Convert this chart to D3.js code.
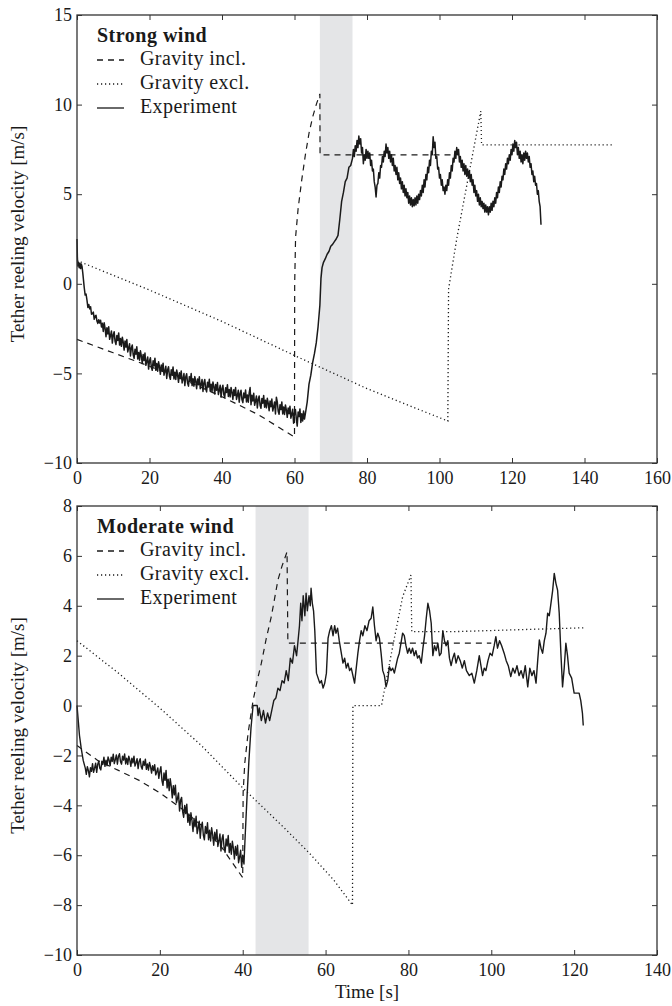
<!DOCTYPE html>
<html>
<head>
<meta charset="utf-8">
<script src="https://cdn.jsdelivr.net/npm/d3@7"></script>
<style>
body { margin: 0; background: #fff; }
svg text { font-family: "Liberation Serif", "Times New Roman", serif; fill: #1a1a1a; }
</style>
</head>
<body>
<div id="chart"></div>
<script>
// legend labels
let seriesLabels = ["Gravity incl.", "Gravity excl.", "Experiment"];

// ---- strong wind ----
let strongXTicks = [0, 20, 40, 60, 80, 100, 120, 140, 160];
let strongYTicks = [-10, -5, 0, 5, 10, 15];
let strongShade = [67, 76];
let strongIncl = [[0,-3.1],[10,-3.85],[20,-4.6],[30,-5.4],[40,-6.3],[50,-7.3],[60,-8.55],[60.05,0],[60.3,2.6],[61,4.2],[62,5.8],[63,7.2],[64,8.4],[65,9.3],[66,10.0],[67,10.6],[67.05,7.2],[104,7.2]];
let strongExcl = [[0,1.3],[20,-0.35],[40,-2.1],[60,-4.0],[80,-5.85],[102.3,-7.66],[102.5,-0.3],[104.8,2.56],[108,6.0],[111.4,9.64],[111.6,7.75],[148,7.75]];
let strongExp = [[0,2.5],[0.1,1.5],[0.2,1.0],[0.4,1.2],[0.6,0.9],[0.8,1.15],[1,0.85],[1.2,1.1],[1.4,0.95],[1.6,0.6],
[2,-0.22],[2.25,-0.63],[2.5,-0.57],[2.75,-0.91],[3,-1.32],[3.25,-1.15],[3.5,-1.4],[3.75,-1.28],[4,-1.7],[4.25,-1.66],[4.5,-1.58],[4.75,-1.98],[5,-1.8],[5.25,-1.76],[5.5,-2.08],[5.75,-2.21],[6,-2.0],[6.25,-2.19],[6.5,-2.03],[6.75,-2.41],[7,-2.2],[7.25,-2.66],[7.5,-2.18],[7.75,-2.49],[8,-2.95],[8.25,-2.45],[8.5,-2.8],[8.75,-2.4],[9,-3.1],[9.25,-2.89],[9.5,-2.63],[9.75,-3.31],
[10,-2.85],[10.25,-2.68],[10.5,-3.21],[10.75,-3.39],[11,-2.88],[11.25,-3.16],[11.5,-2.74],[11.75,-3.42],[12,-3.05],[12.25,-3.49],[12.5,-2.98],[12.75,-3.26],[13,-3.7],[13.25,-3.19],[13.5,-3.53],[13.75,-3.11],[14,-3.8],[14.25,-3.59],[14.5,-3.34],[14.75,-4.03],[15,-3.58],[15.25,-3.42],[15.5,-3.96],[15.75,-4.16],[16,-3.65],[16.25,-3.93],[16.5,-3.51],[16.75,-4.19],[17,-3.83],[17.25,-4.26],[17.5,-3.74],[17.75,-4.02],[18,-4.45],[18.25,-3.94],[18.5,-4.28],[18.75,-3.86],[19,-4.55],[19.25,-4.34],[19.5,-4.08],[19.75,-4.76],
[20,-4.3],[20.25,-4.13],[20.5,-4.65],[20.75,-4.83],[21,-4.3],[21.25,-4.58],[21.5,-4.15],[21.75,-4.83],[22,-4.45],[22.25,-4.88],[22.5,-4.35],[22.75,-4.63],[23,-5.05],[23.25,-4.53],[23.5,-4.85],[23.75,-4.43],[24,-5.1],[24.25,-4.88],[24.5,-4.6],[24.75,-5.28],[25,-4.8],[25.25,-4.63],[25.5,-5.15],[25.75,-5.33],[26,-4.8],[26.25,-5.07],[26.5,-4.64],[26.75,-5.31],[27,-4.93],[27.25,-5.34],[27.5,-4.81],[27.75,-5.08],[28,-5.5],[28.25,-4.97],[28.5,-5.29],[28.75,-4.86],[29,-5.53],[29.25,-5.29],[29.5,-5.01],[29.75,-5.68],
[30,-5.2],[30.25,-5.02],[30.5,-5.54],[30.75,-5.71],[31,-5.18],[31.25,-5.44],[31.5,-5.01],[31.75,-5.68],[32,-5.3],[32.25,-5.71],[32.5,-5.18],[32.75,-5.44],[33,-5.85],[33.25,-5.31],[33.5,-5.63],[33.75,-5.19],[34,-5.85],[34.25,-5.62],[34.5,-5.34],[34.75,-6.01],[35,-5.53],[35.25,-5.34],[35.5,-5.86],[35.75,-6.03],[36,-5.5],[36.25,-5.76],[36.5,-5.33],[36.75,-5.99],[37,-5.6],[37.25,-6.01],[37.5,-5.48],[37.75,-5.74],[38,-6.15],[38.25,-5.62],[38.5,-5.94],[38.75,-5.51],[39,-6.18],[39.25,-5.94],[39.5,-5.66],[39.75,-6.33],
[40,-5.85],[40.25,-5.66],[40.5,-6.18],[40.75,-6.34],[41,-5.8],[41.25,-6.06],[41.5,-5.63],[41.75,-6.29],[42,-5.9],[42.25,-6.31],[42.5,-5.78],[42.75,-6.04],[43,-6.45],[43.25,-5.91],[43.5,-6.23],[43.75,-5.79],[44,-6.45],[44.25,-6.22],[44.5,-5.94],[44.75,-6.61],[45,-6.13],[45.25,-5.94],[45.5,-6.46],[45.75,-6.63],[46,-6.1],[46.25,-6.36],[46.5,-5.93],[46.75,-6.59],[47,-6.2],[47.25,-6.61],[47.5,-6.08],[47.75,-5.79],[48,-6.75],[48.25,-6.22],[48.5,-6.54],[48.75,-6.11],[49,-6.78],[49.25,-6.54],[49.5,-6.26],[49.75,-6.93],
[50,-6.45],[50.25,-6.26],[50.5,-6.78],[50.75,-6.94],[51,-6.4],[51.25,-6.66],[51.5,-6.23],[51.75,-6.89],[52,-6.5],[52.25,-6.92],[52.5,-6.39],[52.75,-6.66],[53,-7.08],[53.25,-6.54],[53.5,-6.86],[53.75,-6.43],[54,-7.1],[54.25,-6.87],[54.5,-6.59],[54.75,-7.26],[55,-6.33],[55.25,-6.59],[55.5,-7.11],[55.75,-7.28],[56,-6.75],[56.25,-7.02],[56.5,-6.59],[56.75,-7.26],[57,-6.88],[57.25,-7.29],[57.5,-6.76],[57.75,-7.03],[58,-7.45],[58.25,-6.93],[58.5,-7.25],[58.75,-6.83],[59,-7.5],[59.25,-7.28],[59.5,-7.0],[59.75,-7.78],
[60,-7.2],[60.25,-7.01],[60.5,-7.53],[60.75,-7.94],[61,-7.15],[61.25,-7.41],[61.5,-6.98],[61.75,-7.74],[62,-7.25],[62.25,-7.65],[62.5,-7.1],[62.75,-7.55],[63,-7.25],
[63.5,-6.6],[64,-5.6],[64.5,-5.1],[65,-4.4],[65.5,-3.9],[66,-3.3],[66.5,-2.4],[67,-1.2],[67.3,0.3],[67.6,0.9],[68,1.2],[68.5,1.4],[69,1.65],[69.5,1.8],[70,2.1],[70.5,2.2],[71,2.35],[71.5,2.5],[72,2.7],[72.5,3.6],[73,4.6],[73.5,5.1],[74,5.7],[74.5,5.9],[75,6.5],[75.5,6.6],
[76,7.0],[76.25,7.5],[76.5,7.1],[76.75,7.7],[77,7.4],[77.25,8.0],[77.5,7.6],[77.75,8.25],[78,7.8],[78.25,8.1],[78.5,7.3],[78.75,7.6],[79,6.7],[79.25,7.2],[79.5,6.9],[79.75,7.5],[80,7.0],[80.25,7.4],[80.5,7.0],[80.75,7.3],[81,6.6],[81.25,6.9],[81.5,6.3],[81.75,6.4],[82,5.7],[82.25,5.4],[82.5,4.85],[82.75,5.5],[83,5.6],[83.25,6.2],[83.5,5.9],[83.75,6.6],[84,6.5],[84.25,7.1],[84.5,6.8],[84.75,7.4],[85,7.1],[85.25,7.8],[85.5,7.3],[85.75,7.6],[86,7.0],[86.25,7.4],[86.5,6.8],[86.75,7.2],[87,6.6],[87.25,7.0],[87.5,6.3],[87.75,6.6],[88,6.1],[88.25,6.5],[88.5,5.8],[88.75,6.2],[89,5.6],[89.25,5.9],[89.5,5.3],[89.75,5.7],[90,5.1],[90.25,5.5],[90.5,4.9],[90.75,5.3],[91,4.8],[91.25,5.1],[91.5,4.5],[91.75,4.9],[92,4.4],[92.25,4.8],[92.5,4.3],[92.75,4.7],[93,4.35],[93.25,4.8],[93.5,4.4],[93.75,4.9],[94,4.5],[94.25,5.0],[94.5,4.7],[94.75,5.2],[95,4.9],[95.25,5.5],[95.5,5.1],[95.75,5.8],[96,5.4],[96.25,6.1],[96.5,5.8],[96.75,6.5],[97,6.2],[97.25,6.9],[97.5,6.6],[97.75,7.4],[98,7.2],[98.25,8.2],[98.5,7.6],[98.75,7.9],[99,7.0],[99.25,7.1],[99.5,6.4],[99.75,6.5],[100,5.9],[100.25,6.1],[100.5,5.5],[100.75,5.8],[101,5.2],[101.25,5.4],[101.5,5.0],[101.75,5.5],[102,5.2],[102.25,5.8],[102.5,5.5],[102.75,6.2],[103,5.9],[103.25,6.6],[103.5,6.3],[103.75,7.0],[104,6.8],[104.25,7.4],[104.5,7.0],[104.75,7.6],[105,7.2],[105.25,7.5],[105.5,6.8],[105.75,7.1],[106,6.5],[106.25,6.9],[106.5,6.3],[106.75,6.7],[107,6.1],[107.25,6.6],[107.5,6.0],[107.75,6.4],[108,5.9],[108.25,6.3],[108.5,5.7],[108.75,6.1],[109,5.5],[109.25,5.8],[109.5,5.1],[109.75,5.5],[110,4.9],[110.25,5.2],[110.5,4.6],[110.75,5.0],[111,4.4],[111.25,4.8],[111.5,4.3],[111.75,4.6],[112,4.2],[112.25,4.5],[112.5,4.0],[112.75,4.4],[113,4.0],[113.25,4.3],[113.5,3.85],[113.75,4.3],[114,4.0],[114.25,4.5],[114.5,4.1],[114.75,4.6],[115,4.3],[115.25,4.8],[115.5,4.5],[115.75,5.1],[116,4.8],[116.25,5.4],[116.5,5.1],[116.75,5.7],[117,5.4],[117.25,6.0],[117.5,5.8],[117.75,6.4],[118,6.1],[118.25,6.7],[118.5,6.4],[118.75,7.0],[119,6.7],[119.25,7.2],[119.5,6.9],[119.75,7.5],[120,7.2],[120.25,7.8],[120.5,7.4],[120.75,8.0],[121,7.6],[121.25,7.9],[121.5,7.2],[121.75,7.6],[122,7.0],[122.25,7.4],[122.5,6.8],[122.75,7.2],[123,6.7],[123.25,7.3],[123.5,6.9],[123.75,7.4],[124,7.0],[124.25,7.3],[124.5,6.8],[124.75,7.1],[125,6.5],[125.25,6.7],[125.5,6.1],[125.75,6.3],[126,5.7],[126.25,6.0],[126.5,5.5],[126.75,5.6],[127,5.0],[127.25,5.2],[127.5,4.6],[127.75,4.3],[128,3.3]];

// ---- moderate wind ----
let moderateXTicks = [0, 20, 40, 60, 80, 100, 120, 140];
let moderateYTicks = [-10, -8, -6, -4, -2, 0, 2, 4, 6, 8];
let moderateShade = [43.1, 55.9];
let moderateIncl = [[0,-1.6],[5,-2.2],[10,-2.6],[15,-3.0],[20,-3.5],[25,-4.1],[30,-4.8],[35,-5.7],[40,-6.9],[40.1,-3.5],[40.5,-2.3],[41.3,-1.1],[42.5,0.2],[43.5,1.0],[44.5,1.7],[45.7,2.7],[46.9,3.56],[48.5,5.03],[49.5,5.6],[50.7,6.16],[50.9,2.5],[100,2.5]];
let moderateExcl = [[0,2.6],[10,1.3],[20,-0.1],[30,-1.6],[40,-3.3],[50,-4.9],[56,-5.9],[62,-7.0],[66.5,-8.0],[66.6,0],[73.5,0],[76.2,2.36],[78.6,4.36],[80.6,5.23],[80.8,2.96],[90.3,2.96],[122.8,3.12]];
let moderateExp = [[0,0.0],[0.3,-0.6],[0.6,-1.2],[1,-1.7],[1.5,-2.2],
[2,-2.51],[2.25,-2.76],[2.5,-2.45],[2.75,-2.61],[3,-2.86],[3.25,-2.49],[3.5,-2.64],[3.75,-2.33],[4,-2.68],[4.25,-2.51],[4.5,-2.31],[4.75,-2.68],[5,-2.36],[5.25,-2.22],[5.5,-2.51],[5.75,-2.58],[6,-2.23],[6.25,-2.36],[6.5,-2.07],[6.75,-2.44],[7,-2.19],[7.25,-2.41],[7.5,-2.06],[7.75,-2.19],[8,-2.41],[8.25,-2.07],[8.5,-2.24],[8.75,-1.95],[9,-2.33],[9.25,-2.17],[9.5,-1.98],[9.75,-2.35],
[10,-2.04],[10.25,-1.93],[10.5,-2.25],[10.75,-2.35],[11,-2.03],[11.25,-2.19],[11.5,-1.94],[11.75,-2.34],[12,-2.11],[12.25,-2.36],[12.5,-2.03],[12.75,-2.19],[13,-2.44],[13.25,-2.11],[13.5,-2.3],[13.75,-2.03],[14,-2.43],[14.25,-2.29],[14.5,-2.13],[14.75,-2.53],[15,-2.24],[15.25,-2.13],[15.5,-2.45],[15.75,-2.55],[16,-2.23],[16.25,-2.4],[16.5,-2.15],[16.75,-2.56],[17,-2.34],[17.25,-2.59],[17.5,-2.28],[17.75,-2.45],[18,-2.71],[18.25,-2.41],[18.5,-2.61],[18.75,-2.37],[19,-2.78],[19.25,-2.66],[19.5,-2.5],[19.75,-2.92],
[20,-2.64],[20.25,-2.45],[20.5,-3.0],[20.75,-3.2],[21,-2.7],[21.25,-3.0],[21.5,-2.6],[21.75,-3.3],[22,-2.95],[22.25,-3.41],[22.5,-2.93],[22.75,-3.24],[23,-3.7],[23.25,-3.21],[23.5,-3.58],[23.75,-3.19],[24,-3.9],[24.25,-3.73],[24.5,-3.5],[24.75,-4.23],[25,-3.8],[25.25,-3.68],[25.5,-4.25],[25.75,-4.48],[26,-4.0],[26.25,-4.33],[26.5,-3.95],[26.75,-4.68],[27,-4.35],[27.25,-4.8],[27.5,-4.3],[27.75,-4.6],[28,-5.05],[28.25,-4.53],[28.5,-4.86],[28.75,-4.44],[29,-5.13],[29.25,-4.91],[29.5,-4.64],[29.75,-5.32],
[30,-4.85],[30.25,-4.68],[30.5,-5.2],[30.75,-5.38],[31,-4.85],[31.25,-5.13],[31.5,-4.7],[31.75,-5.38],[32,-5.0],[32.25,-5.43],[32.5,-4.9],[32.75,-5.18],[33,-5.6],[33.25,-5.08],[33.5,-5.4],[33.75,-4.98],[34,-5.65],[34.25,-5.43],[34.5,-5.15],[34.75,-5.83],[35,-5.35],[35.25,-5.18],[35.5,-5.7],[35.75,-5.88],[36,-5.35],[36.25,-5.63],[36.5,-5.21],[36.75,-5.89],[37,-5.53],[37.25,-5.96],[37.5,-5.44],[37.75,-5.72],[38,-6.15],[38.25,-5.65],[38.5,-6.0],[38.75,-5.6],[39,-6.3],[39.25,-6.08],[39.5,-5.8],[39.75,-6.48],[40,-6.0],[40.3,-6.35],
[40.6,-5.2],[41,-3.8],[41.5,-2.2],[42,-0.9],[42.5,0.0],[43.5,0.0],[43.7,-0.4],[44,-0.1],[44.5,-0.6],[45,-0.2],[45.5,-0.7],[46,-0.3],[46.5,-0.6],[47,-0.2],[47.5,0.2],[48,0.3],[48.5,0.7],[49,0.6],[49.5,1.0],[50,0.9],[50.5,1.4],[51,1.0],[51.5,1.9],[52,1.7],[52.5,2.4],[53,2.0],[53.3,2.5],[53.7,3.2],[54,4.1],[54.3,3.4],[54.6,4.4],[55,3.6],[55.3,4.5],[55.6,3.8],[56,4.4],[56.3,4.0],[56.5,4.7],[56.8,4.1],[57.1,3.8],[57.4,3.0],[57.8,1.3],[58.2,1.1],[58.6,0.9],[59,1.0],[59.4,0.7],[59.8,0.9],[60.2,1.3],[60.6,2.7],[61,3.0],[61.4,3.2],[61.8,2.8],[62.2,3.2],[62.5,2.9],[62.9,3.1],[63.3,2.6],[63.7,2.2],[64.2,1.7],[64.6,1.9],[65,1.5],[65.4,1.7],[65.8,1.4],[66.2,1.5],[66.6,1.2],[67,0.9],[67.4,1.5],[67.8,2.1],[68.2,2.6],[68.6,3.0],[69,2.8],[69.5,3.2],[70,3.0],[70.5,3.4],[71,3.5],[71.4,3.95],[71.8,3.2],[72.2,2.6],[72.6,2.9],[73,2.7],[73.4,2.1],[73.8,1.4],[74.2,1.2],[74.6,0.75],[75,1.0],[75.4,1.56],[75.8,1.4],[76.2,1.5],[76.6,1.3],[77,1.6],[77.4,1.9],[77.8,2.1],[78.2,2.5],[78.6,2.9],[79,2.8],[79.4,2.4],[79.8,2.1],[80.2,2.3],[80.6,2.1],[81,2.3],[81.4,2.0],[81.8,2.2],[82.2,1.9],[82.6,2.0],[83.1,1.7],[83.5,2.3],[83.9,2.8],[84.3,3.5],[84.7,4.1],[85.1,3.8],[85.5,3.3],[85.9,2.0],[86.3,2.4],[86.7,2.2],[87.1,2.5],[87.5,2.0],[87.9,2.1],[88.3,3.0],[88.7,2.6],[89.1,2.4],[89.5,2.6],[89.9,1.9],[90.3,1.6],[90.7,1.9],[91.1,2.1],[91.5,1.7],[92,2.0],[92.5,1.8],[93,1.5],[93.5,1.8],[94,1.4],[94.7,1.2],[95.3,1.3],[95.9,0.9],[96.5,1.4],[97.1,2.0],[97.5,1.6],[97.9,1.2],[98.3,1.5],[98.7,1.4],[99.2,1.8],[99.7,2.1],[100.2,2.0],[100.7,2.4],[101.1,2.76],[101.5,2.3],[102,2.6],[102.5,2.4],[103.1,2.1],[103.6,1.8],[104.1,1.6],[104.7,1.16],[105.2,1.5],[105.7,1.3],[106.2,1.6],[106.7,1.2],[107.2,1.4],[107.7,1.1],[108.2,1.6],[108.8,0.75],[109.3,1.5],[109.8,1.2],[110.3,1.4],[110.8,0.9],[111.2,1.8],[111.6,2.63],[112,2.3],[112.4,2.1],[112.8,2.6],[113.2,2.9],[113.6,3.7],[114,3.6],[114.4,4.1],[114.8,4.6],[115.2,5.3],[115.6,4.9],[116,4.63],[116.4,3.7],[116.8,2.1],[117.2,0.75],[117.6,1.5],[118,2.5],[118.4,2.0],[118.8,1.3],[119.4,1.1],[120,0.5],[120.6,0.5],[121.2,0.5],[121.6,0.2],[122,-0.3],[122.2,-0.8]];

let svg = d3.select("#chart")
    .append("svg")
    .attr("width", 672)
    .attr("height", 1006);

function drawPanel(p) {
    let x = d3.scaleLinear().domain([p.xTicks[0], p.xTicks[p.xTicks.length - 1]]).range([77, 657]);
    let y = d3.scaleLinear().domain([p.yTicks[0], p.yTicks[p.yTicks.length - 1]]).range([p.bottom, p.top]);
    let g = svg.append("g");

    g.append("rect")
        .attr("x", x(p.shade[0]))
        .attr("y", p.top)
        .attr("width", x(p.shade[1]) - x(p.shade[0]))
        .attr("height", p.bottom - p.top)
        .attr("fill", "#e4e5e7");

    let line = d3.line()
        .x(function(d) { return x(d[0]); })
        .y(function(d) { return y(d[1]); });

    g.append("path").datum(p.incl)
        .attr("fill", "none").attr("stroke", "#1a1a1a")
        .attr("stroke-width", 1.2).attr("stroke-dasharray", "6,5")
        .attr("d", line);
    g.append("path").datum(p.excl)
        .attr("fill", "none").attr("stroke", "#1a1a1a")
        .attr("stroke-width", 1.3).attr("stroke-dasharray", "1.2,2.8")
        .attr("d", line);
    g.append("path").datum(p.exp)
        .attr("fill", "none").attr("stroke", "#1a1a1a")
        .attr("stroke-width", p.expWidth).attr("stroke-linejoin", "round")
        .attr("d", line);

    // axes with inward ticks on all sides
    let ax = [
        [d3.axisBottom(x).tickValues(p.xTicks).tickSize(-5).tickPadding(8), "translate(0," + p.bottom + ")"],
        [d3.axisLeft(y).tickValues(p.yTicks).tickSize(-5).tickPadding(5), "translate(77,0)"],
        [d3.axisTop(x).tickValues(p.xTicks).tickSize(-5).tickFormat(""), "translate(0," + p.top + ")"],
        [d3.axisRight(y).tickValues(p.yTicks).tickSize(-5).tickFormat(""), "translate(657,0)"]
    ];
    ax.forEach(function(a) {
        let ag = g.append("g").attr("transform", a[1]).call(a[0]);
        ag.attr("font-family", null).attr("font-size", null);
        ag.select(".domain").remove();
        ag.selectAll("line").attr("stroke", "#333").attr("stroke-width", 1);
        ag.selectAll("text").style("font-size", "18px").attr("fill", "#1a1a1a");
    });

    g.append("rect")
        .attr("x", 77).attr("y", p.top)
        .attr("width", 580).attr("height", p.bottom - p.top)
        .attr("fill", "none").attr("stroke", "#333").attr("stroke-width", 1.3);

    g.append("text")
        .attr("transform", "translate(24," + ((p.top + p.bottom) / 2 - 5) + ") rotate(-90)")
        .attr("text-anchor", "middle")
        .style("font-size", "19px")
        .text("Tether reeling velocity [m/s]");

    // legend
    let lx = 97, ly = p.top + 27;
    g.append("text").attr("x", lx).attr("y", ly)
        .style("font-size", "20px").style("font-weight", "bold")
        .style("letter-spacing", "0.5px")
        .text(p.title);
    let dashes = ["6,5", "1.2,2.8", null];
    seriesLabels.forEach(function(s, i) {
        let by = ly + 24 * (i + 1) - 1;
        g.append("line")
            .attr("x1", lx).attr("x2", lx + 27)
            .attr("y1", by - 5).attr("y2", by - 5)
            .attr("stroke", "#1a1a1a").attr("stroke-width", 1.3)
            .attr("stroke-dasharray", dashes[i]);
        g.append("text").attr("x", lx + 43).attr("y", by)
            .style("font-size", "20px")
            .style("letter-spacing", "0.4px")
            .text(s);
    });
}

drawPanel({title: "Strong wind", top: 15, bottom: 463, xTicks: strongXTicks, yTicks: strongYTicks,
    shade: strongShade, incl: strongIncl, excl: strongExcl, exp: strongExp, expWidth: 1.5});
drawPanel({title: "Moderate wind", top: 506, bottom: 955, xTicks: moderateXTicks, yTicks: moderateYTicks,
    shade: moderateShade, incl: moderateIncl, excl: moderateExcl, exp: moderateExp, expWidth: 1.4});

svg.append("text")
    .attr("x", 367).attr("y", 998)
    .attr("text-anchor", "middle")
    .style("font-size", "19px")
    .text("Time [s]");
</script>
</body>
</html>
